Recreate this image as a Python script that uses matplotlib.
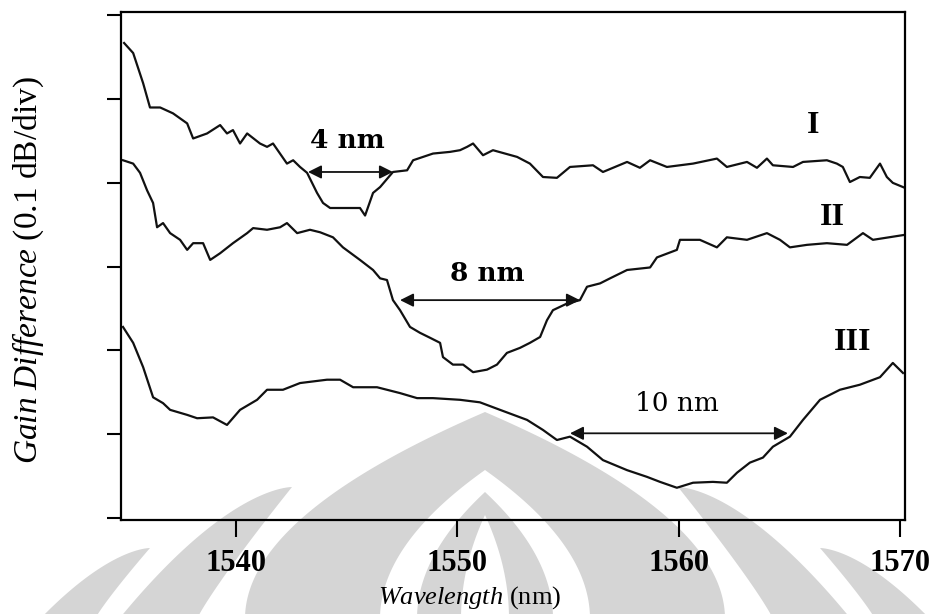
import numpy as np
import matplotlib
matplotlib.use("Agg")
import matplotlib.pyplot as plt
from matplotlib.patches import Polygon

# curve I  (wavelength nm, gain difference in divisions)
wl_1 = [1534.94, 1535.35, 1535.80, 1536.11, 1536.57, 1537.15, 1537.79, 1538.06, 1538.69, 1539.28,
        1539.59, 1539.86, 1540.18, 1540.50, 1541.08, 1541.40, 1541.67, 1542.30, 1542.58, 1542.89,
        1543.21, 1543.66, 1543.93, 1544.25, 1545.02, 1545.60, 1545.83, 1546.19, 1546.51, 1547.09,
        1547.73, 1548.00, 1548.90, 1549.67, 1550.12, 1550.44, 1550.71, 1551.16, 1551.61, 1552.70,
        1553.28, 1553.87, 1554.50, 1555.09, 1556.13, 1556.58, 1557.67, 1558.25, 1558.71, 1559.47,
        1560.65, 1561.73, 1562.18, 1563.09, 1563.54, 1563.99, 1564.26, 1565.17, 1565.62, 1566.70,
        1567.15, 1567.42, 1567.74, 1568.19, 1568.64, 1569.10, 1569.41, 1569.68, 1570.23]
gd_1 = [5.67, 5.55, 5.19, 4.90, 4.90, 4.83, 4.71, 4.53, 4.59, 4.69,
        4.59, 4.63, 4.47, 4.59, 4.47, 4.43, 4.47, 4.23, 4.27, 4.19,
        4.12, 3.88, 3.76, 3.70, 3.70, 3.70, 3.61, 3.88, 3.95, 4.13,
        4.15, 4.27, 4.35, 4.37, 4.39, 4.43, 4.47, 4.33, 4.39, 4.31,
        4.23, 4.07, 4.06, 4.19, 4.21, 4.13, 4.25, 4.18, 4.27, 4.19,
        4.23, 4.29, 4.19, 4.25, 4.18, 4.29, 4.21, 4.19, 4.25, 4.27,
        4.23, 4.19, 4.01, 4.07, 4.06, 4.23, 4.07, 4.00, 3.94]

# curve II
wl_2 = [1534.89, 1535.35, 1535.66, 1535.98, 1536.25, 1536.43, 1536.70, 1537.02, 1537.47, 1537.79,
        1538.06, 1538.51, 1538.83, 1539.28, 1539.86, 1540.50, 1540.77, 1541.40, 1541.99, 1542.30,
        1542.76, 1543.34, 1543.80, 1544.38, 1544.83, 1545.60, 1546.19, 1546.51, 1546.82, 1547.09,
        1547.41, 1547.86, 1548.31, 1548.77, 1549.22, 1549.35, 1549.80, 1550.26, 1550.71, 1551.34,
        1551.79, 1552.24, 1552.83, 1553.28, 1553.74, 1554.05, 1554.32, 1554.96, 1555.54, 1555.86,
        1556.45, 1556.90, 1557.67, 1558.71, 1559.02, 1559.92, 1560.06, 1560.96, 1561.73, 1562.18,
        1563.09, 1563.99, 1564.58, 1565.03, 1565.80, 1566.70, 1567.61, 1568.33, 1568.78, 1570.23]
gd_2 = [4.27, 4.23, 4.12, 3.91, 3.76, 3.47, 3.52, 3.40, 3.32, 3.20,
        3.28, 3.28, 3.08, 3.16, 3.28, 3.40, 3.46, 3.44, 3.47, 3.52,
        3.40, 3.44, 3.41, 3.35, 3.23, 3.08, 2.96, 2.86, 2.84, 2.60,
        2.48, 2.28, 2.21, 2.15, 2.09, 1.92, 1.83, 1.83, 1.74, 1.77,
        1.83, 1.97, 2.03, 2.09, 2.16, 2.36, 2.48, 2.56, 2.60, 2.76,
        2.80, 2.86, 2.96, 2.99, 3.11, 3.20, 3.32, 3.32, 3.23, 3.35,
        3.32, 3.40, 3.32, 3.23, 3.26, 3.28, 3.26, 3.40, 3.32, 3.38]

# curve III
wl_3 = [1534.89, 1535.35, 1535.80, 1536.25, 1536.70, 1537.02, 1537.79, 1538.24, 1538.96, 1539.59,
        1540.18, 1540.95, 1541.40, 1542.12, 1542.89, 1544.11, 1544.70, 1545.29, 1546.37, 1547.41,
        1548.18, 1548.90, 1550.12, 1551.02, 1551.93, 1553.15, 1553.87, 1554.50, 1555.09, 1555.86,
        1556.58, 1557.67, 1558.57, 1559.16, 1559.92, 1560.65, 1561.55, 1562.18, 1562.64, 1563.22,
        1563.81, 1564.26, 1565.03, 1565.62, 1566.39, 1567.29, 1568.19, 1569.10, 1569.68, 1570.14]
gd_3 = [2.28, 2.09, 1.80, 1.44, 1.37, 1.29, 1.23, 1.19, 1.20, 1.11,
        1.29, 1.41, 1.53, 1.53, 1.61, 1.65, 1.65, 1.56, 1.56, 1.49,
        1.43, 1.43, 1.41, 1.38, 1.29, 1.17, 1.05, 0.93, 0.97, 0.85,
        0.69, 0.57, 0.49, 0.43, 0.36, 0.42, 0.43, 0.42, 0.54, 0.66,
        0.72, 0.85, 0.97, 1.17, 1.41, 1.53, 1.59, 1.68, 1.85, 1.73]

# width markers: (start, end, level, label, label x, label y)
widths = [(1543.25, 1547.09, 4.13, "4 nm", 1545.02, 4.51),
          (1547.41, 1555.54, 2.60, "8 nm", 1551.34, 2.92),
          (1555.09, 1564.94, 1.01, "10 nm", 1559.92, 1.37)]
curve_names = ["I", "II", "III"]
name_pos = [(1566.07, 4.69), (1566.97, 3.59), (1567.88, 2.09)]
x_ticks = [1540, 1550, 1560, 1570]

plt.rcParams["font.family"] = "Liberation Serif"
plt.rcParams["mathtext.fontset"] = "custom"
plt.rcParams["mathtext.rm"] = "Liberation Serif"
plt.rcParams["mathtext.it"] = "Liberation Serif:italic"

W, H = 934, 614
fig = plt.figure(figsize=(9.34, 6.14), dpi=100, facecolor="white")
ax = fig.add_axes([121 / W, 94 / H, 784 / W, 508 / H])
ax.set_facecolor("none")

grey = "#d5d5d5"


def add_poly(xs, ys, color):
    pts = np.column_stack([np.asarray(xs) / W, 1 - np.asarray(ys) / H])
    fig.add_artist(Polygon(pts, closed=True, transform=fig.transFigure,
                           fc=color, ec="none", zorder=-5))


# faint logo watermark from the scan: nested pointed arches + side horns
def arch(cx, apex, hw, color):
    d = np.linspace(0, 1, 120)
    ys = apex + d * (H + 5 - apex)
    w = hw * (1 - (1 - d) ** 2)
    add_poly(np.concatenate([cx - w[::-1], cx + w]), np.concatenate([ys[::-1], ys]), color)


def horn(x_out, x_in, tip_x, tip_y, color):
    t = np.linspace(0, 1, 60)
    # outer edge bulges outwards a little, inner edge stays straighter
    ox = x_out + (tip_x - x_out) * t
    oy = H + 5 + (tip_y - H - 5) * (1 - (1 - t) ** 1.6)
    ix = x_in + (tip_x - x_in) * t
    iy = H + 5 + (tip_y - H - 5) * t ** 0.9
    add_poly(np.concatenate([ox, ix[::-1]]), np.concatenate([oy, iy[::-1]]), color)


cx = 485
arch(cx, 412, 240, grey)
arch(cx, 470, 105, "white")
arch(cx, 492, 68, grey)
arch(cx, 515, 24, "white")
horn(119, 197, 292, 487, grey)
horn(2 * cx - 119, 2 * cx - 197, 2 * cx - 292, 487, grey)
horn(40, 95, 150, 548, grey)
horn(2 * cx - 40, 2 * cx - 95, 2 * cx - 150, 548, grey)

for wl, gd in [(wl_1, gd_1), (wl_2, gd_2), (wl_3, gd_3)]:
    ax.plot(wl, gd, color="#111111", lw=1.6, solid_joinstyle="round")

for x0, x1, lev, lab, tx, ty in widths:
    ax.annotate("", xy=(x1, lev), xytext=(x0, lev),
                arrowprops=dict(arrowstyle="<|-|>", color="#111111", lw=1.3,
                                mutation_scale=20, shrinkA=0, shrinkB=0))
    ax.text(tx, ty, lab, ha="center", va="center", fontsize=19,
            family="DejaVu Serif", weight="bold" if lab != "10 nm" else "normal")

for name, (nx, ny) in zip(curve_names, name_pos):
    ax.text(nx, ny, name, ha="center", va="center", fontsize=23, weight="bold")

ax.set_xlim(1534.80, 1570.23)
ax.set_ylim(-0.025, 6.04)
ax.set_xticks(x_ticks)
ax.set_yticks(range(7))
ax.tick_params(axis="y", direction="out", length=10, width=1.5, labelleft=False)
ax.tick_params(axis="x", direction="out", length=12, width=1.5, pad=9, labelsize=22)
for lab in ax.get_xticklabels():
    lab.set_fontweight("bold")
for sp in ax.spines.values():
    sp.set_linewidth(1.6)

fig.text(470 / W, 1 - 598 / H, r"$\mathit{Wavelength}$ (nm)", ha="center", va="center", fontsize=19)
fig.text(28 / W, 1 - 270 / H, r"$\mathit{Gain\ Difference}$ (0.1 dB/div)", ha="center", va="center",
         rotation=90, fontsize=24)

fig.savefig("out.png", dpi=100)
